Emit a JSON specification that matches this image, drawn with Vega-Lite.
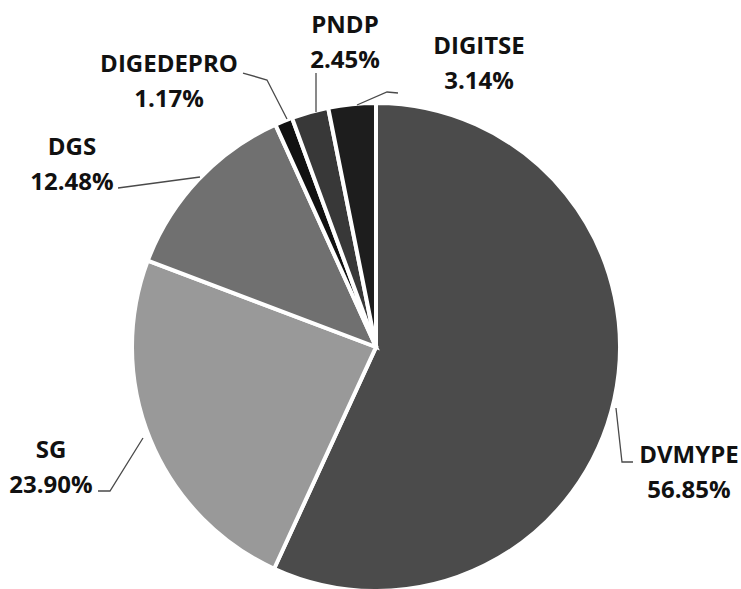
{
  "$schema": "https://vega.github.io/schema/vega-lite/v6.json",
  "width": 741,
  "height": 589,
  "autosize": {"type": "none"},
  "padding": 0,
  "background": "white",
  "config": {"view": {"stroke": null}},
  "datasets": {
    "slices": [
      {"name": "DVMYPE", "share": 56.85, "rank": 1},
      {"name": "SG", "share": 23.90, "rank": 2},
      {"name": "DGS", "share": 12.48, "rank": 3},
      {"name": "DIGEDEPRO", "share": 1.17, "rank": 4},
      {"name": "PNDP", "share": 2.45, "rank": 5},
      {"name": "DIGITSE", "share": 3.14, "rank": 6}
    ],
    "labels": [
      {"name": "DVMYPE", "pct": "56.85%", "u": 1.2934, "v": -0.5145},
      {"name": "SG", "pct": "23.90%", "u": -1.343, "v": -0.4959},
      {"name": "DGS", "pct": "12.48%", "u": -1.2562, "v": 0.7562},
      {"name": "DIGEDEPRO", "pct": "1.17%", "u": -0.8554, "v": 1.0992},
      {"name": "PNDP", "pct": "2.45%", "u": -0.1281, "v": 1.2624},
      {"name": "DIGITSE", "pct": "3.14%", "u": 0.4256, "v": 1.1756}
    ],
    "leaders": [
      {"name": "DVMYPE", "step": 1, "u": 0.9917, "v": -0.2521},
      {"name": "DVMYPE", "step": 2, "u": 1.0165, "v": -0.4752},
      {"name": "DVMYPE", "step": 3, "u": 1.062, "v": -0.4752},
      {"name": "SG", "step": 1, "u": -0.9628, "v": -0.376},
      {"name": "SG", "step": 2, "u": -1.0992, "v": -0.595},
      {"name": "SG", "step": 3, "u": -1.1488, "v": -0.595},
      {"name": "DGS", "step": 1, "u": -1.0661, "v": 0.657},
      {"name": "DGS", "step": 2, "u": -0.7273, "v": 0.7025},
      {"name": "DIGEDEPRO", "step": 1, "u": -0.5496, "v": 1.1322},
      {"name": "DIGEDEPRO", "step": 2, "u": -0.4504, "v": 1.1033},
      {"name": "DIGEDEPRO", "step": 3, "u": -0.3678, "v": 0.9421},
      {"name": "PNDP", "step": 1, "u": -0.2479, "v": 1.1322},
      {"name": "PNDP", "step": 2, "u": -0.2479, "v": 0.9711},
      {"name": "DIGITSE", "step": 1, "u": 0.0909, "v": 1.0496},
      {"name": "DIGITSE", "step": 2, "u": 0.0455, "v": 1.0537},
      {"name": "DIGITSE", "step": 3, "u": -0.0785, "v": 1.0}
    ]
  },
  "layer": [
    {
      "data": {"name": "slices"},
      "mark": {"type": "arc", "radius": 244, "stroke": "white", "strokeWidth": 4},
      "encoding": {
        "theta": {"field": "share", "type": "quantitative", "stack": true},
        "order": {"field": "rank", "type": "quantitative"},
        "color": {
          "field": "name",
          "type": "nominal",
          "legend": null,
          "scale": {
            "domain": ["DVMYPE", "SG", "DGS", "DIGEDEPRO", "PNDP", "DIGITSE"],
            "range": ["#4b4b4b", "#999999", "#707070", "#111111", "#383838", "#1d1d1d"]
          }
        },
        "x": {"datum": 0, "type": "quantitative", "axis": null, "scale": {"domain": [-1.5537, 1.5083], "nice": false, "zero": false}},
        "y": {"datum": 0, "type": "quantitative", "axis": null, "scale": {"domain": [-1.0, 1.4339], "nice": false, "zero": false}}
      }
    },
    {
      "data": {"name": "leaders"},
      "mark": {"type": "line", "color": "#4a4a4a", "strokeWidth": 1.3},
      "encoding": {
        "x": {"field": "u", "type": "quantitative", "axis": null, "scale": {"domain": [-1.5537, 1.5083], "nice": false, "zero": false}},
        "y": {"field": "v", "type": "quantitative", "axis": null, "scale": {"domain": [-1.0, 1.4339], "nice": false, "zero": false}},
        "detail": {"field": "name", "type": "nominal"},
        "order": {"field": "step", "type": "quantitative"}
      }
    },
    {
      "data": {"name": "labels"},
      "mark": {"type": "text", "font": "Open Sans", "fontWeight": "bold", "fontSize": 24, "color": "#111111", "align": "center", "baseline": "middle", "dy": -16},
      "encoding": {
        "x": {"field": "u", "type": "quantitative", "axis": null, "scale": {"domain": [-1.5537, 1.5083], "nice": false, "zero": false}},
        "y": {"field": "v", "type": "quantitative", "axis": null, "scale": {"domain": [-1.0, 1.4339], "nice": false, "zero": false}},
        "text": {"field": "name", "type": "nominal"}
      }
    },
    {
      "data": {"name": "labels"},
      "mark": {"type": "text", "font": "Open Sans", "fontWeight": "bold", "fontSize": 24, "color": "#111111", "align": "center", "baseline": "middle", "dy": 19},
      "encoding": {
        "x": {"field": "u", "type": "quantitative", "axis": null, "scale": {"domain": [-1.5537, 1.5083], "nice": false, "zero": false}},
        "y": {"field": "v", "type": "quantitative", "axis": null, "scale": {"domain": [-1.0, 1.4339], "nice": false, "zero": false}},
        "text": {"field": "pct", "type": "nominal"}
      }
    }
  ]
}
